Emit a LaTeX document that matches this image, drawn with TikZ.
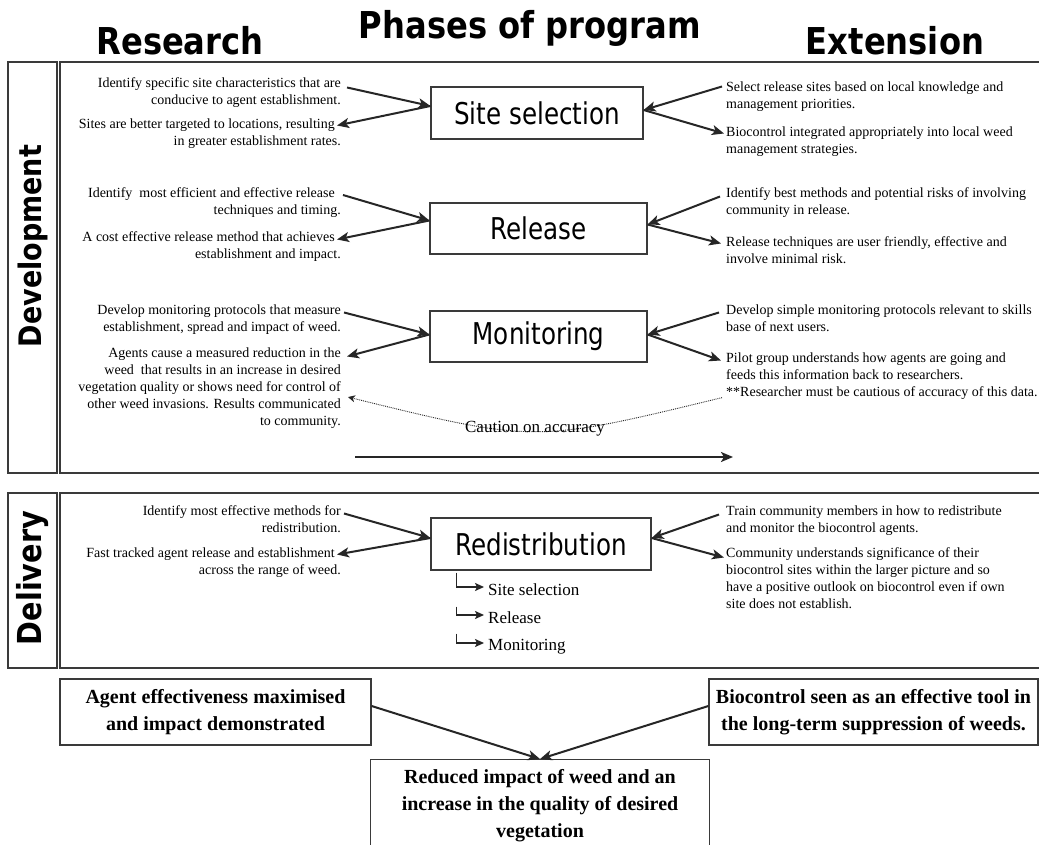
\documentclass[tikz,border=0pt]{standalone}
\usepackage{fontspec}
\setmainfont{Liberation Serif}
\newfontfamily\hsf[FakeStretch=0.87]{DejaVu Sans}
\newfontfamily\bsf[FakeStretch=0.82]{DejaVu Sans}
\usetikzlibrary{arrows.meta,calc}
\definecolor{linec}{HTML}{3A3A3A}
\definecolor{arrc}{HTML}{262626}
\tikzset{
  frame/.style={draw=linec, line width=1.2pt},
  phase/.style={draw=linec, line width=1.2pt, minimum height=52pt, inner sep=0pt,
    font=\bsf\fontsize{30}{30}\selectfont},
  ltext/.style={anchor=north east, align=right, inner sep=0pt, font=\fontsize{14}{17}\selectfont},
  rtext/.style={anchor=north west, align=left, inner sep=0pt, font=\fontsize{14}{17}\selectfont},
  arr/.style={draw=arrc, line width=2pt, -{Stealth[length=12pt,width=10pt,inset=3pt]}},
  elb/.style={draw=arrc, line width=1.8pt, -{Stealth[length=9pt,width=8pt,inset=2pt]}},
  dotarr/.style={draw=arrc, line width=0.9pt, dash pattern=on 0.9pt off 1pt, -{Stealth[length=7pt,width=7pt,inset=2pt]}},
  head/.style={inner sep=0pt, font=\hsf\bfseries\fontsize{37}{37}\selectfont},
  side/.style={inner sep=0pt, rotate=90, font=\hsf\bfseries\fontsize{31}{31}\selectfont},
  sub/.style={anchor=west, inner sep=0pt, font=\fontsize{17}{17}\selectfont},
  bbox/.style={draw=linec, line width=1.2pt, align=center, inner xsep=4pt,
    font=\bfseries\fontsize{20}{27}\selectfont}
}
\begin{document}
\begin{tikzpicture}[x=1pt,y=-1pt]
\useasboundingbox (0,0) rectangle (1039,845);
\clip (0,0) rectangle (1039,845);
\fill[white] (0,0) rectangle (1039,845);

% headings
\node[head, anchor=base] (ttl) at (530,39) {Phases of program};
\node[head, anchor=base] (res) at (180,55) {Research};
\node[head, anchor=base] (ext) at (895,55) {Extension};

% frames
\draw[frame] (8,62) rectangle (57,473);
\draw[frame] (60,62) rectangle (1050,473);
\draw[frame] (8,493) rectangle (57,668);
\draw[frame] (60,493) rectangle (1050,668);
\node[side] (dev) at (33,246) {Development};
\node[side, font=\hsf\bfseries\fontsize{33}{33}\selectfont] (del) at (33,578) {Delivery};

% phase boxes
\node[phase, minimum width=212pt] (ss) at (537,113) {Site selection};
\node[phase, minimum width=217pt, minimum height=51pt] (rel) at (538.5,228.5) {Release};
\node[phase, minimum width=217pt, minimum height=51pt] (mon) at (538.5,336.5) {Monitoring};
\node[phase, minimum width=220pt] (red) at (541,544) {Redistribution};

% left texts
\node[ltext] (ls1) at (341,77.5) {Identify specific site characteristics that are\\conducive to agent establishment.};
\node[ltext] (ls2) at (341,118.5) {Sites are better targeted to locations, resulting\hspace*{6pt}\\in greater establishment rates.};
\node[ltext] (lr1) at (341,187.5) {Identify~~most efficient and effective release\hspace*{6pt}\\techniques and timing.};
\node[ltext] (lr2) at (341,231.5) {A cost effective release method that achieves\hspace*{6pt}\\establishment and impact.};
\node[ltext] (lm1) at (341,304.5) {Develop monitoring protocols that measure\\establishment, spread and impact of weed.};
\node[ltext] (lm2) at (341,347.5) {Agents cause a measured reduction in the\\weed~~that results in an increase in desired\\vegetation quality or shows need for control of\\other weed invasions. Results communicated\\to community.};
\node[ltext] (ld1) at (341,505.5) {Identify most effective methods for\\redistribution.};
\node[ltext] (ld2) at (341,547.5) {Fast tracked agent release and establishment\hspace*{6pt}\\across the range of weed.};

% right texts
\node[rtext] (rs1) at (726,81.5) {Select release sites based on local knowledge and\\management priorities.};
\node[rtext] (rs2) at (726,126.5) {Biocontrol integrated appropriately into local weed\\management strategies.};
\node[rtext] (rr1) at (726,187.5) {Identify best methods and potential risks of involving\\community in release.};
\node[rtext] (rr2) at (726,236.5) {Release techniques are user friendly, effective and\\involve minimal risk.};
\node[rtext] (rm1) at (726,304.5) {Develop simple monitoring protocols relevant to skills\\base of next users.};
\node[rtext] (rm2) at (726,352.5) {Pilot group understands how agents are going and\\feeds this information back to researchers.\\**Researcher must be cautious of accuracy of this data.};
\node[rtext] (rd1) at (726,505.5) {Train community members in how to redistribute\\and monitor the biocontrol agents.};
\node[rtext] (rd2) at (726,547.5) {Community understands significance of their\\biocontrol sites within the larger picture and so\\have a positive outlook on biocontrol even if own\\site does not establish.};

% left arrows
\draw[arr] ([shift={(6,10)}]ls1.north east) -- ([shift={(0,-7)}]ss.west);
\draw[arr] ([shift={(0,-7)}]ss.west) -- ([shift={(-4,7)}]ls2.north east);
\draw[arr] ([shift={(2,7.5)}]lr1.north east) -- ([shift={(0,-8)}]rel.west);
\draw[arr] ([shift={(0,-8)}]rel.west) -- ([shift={(-4,8)}]lr2.north east);
\draw[arr] ([shift={(3,8)}]lm1.north east) -- ([shift={(0,-2)}]mon.west);
\draw[arr] ([shift={(0,-2)}]mon.west) -- ([shift={(6,9)}]lm2.north east);
\draw[arr] ([shift={(3,8)}]ld1.north east) -- ([shift={(0,-6)}]red.west);
\draw[arr] ([shift={(0,-6)}]red.west) -- ([shift={(-4,7)}]ld2.north east);

% right arrows
\draw[arr] ([shift={(-4,5)}]rs1.north west) -- ([shift={(0,-3)}]ss.east);
\draw[arr] ([shift={(0,-3)}]ss.east) -- ([shift={(-2,7)}]rs2.north west);
\draw[arr] ([shift={(-6,9)}]rr1.north west) -- ([shift={(0,-4)}]rel.east);
\draw[arr] ([shift={(0,-4)}]rel.east) -- ([shift={(-5,7)}]rr2.north west);
\draw[arr] ([shift={(-7,8)}]rm1.north west) -- ([shift={(0,-2)}]mon.east);
\draw[arr] ([shift={(0,-2)}]mon.east) -- ([shift={(-5,8)}]rm2.north west);
\draw[arr] ([shift={(-7,9)}]rd1.north west) -- ([shift={(0,-6)}]red.east);
\draw[arr] ([shift={(0,-6)}]red.east) -- ([shift={(-2,10)}]rd2.north west);

% caution dotted connector
\draw[dotarr] ([shift={(-4,-2)}]rm2.south west) .. controls (535,443) .. ([shift={(7,9)}]lm2.east)
  node[pos=0.5, anchor=base, yshift=-1pt, inner sep=0pt, font=\fontsize{17}{17}\selectfont] (cau) {Caution on accuracy};

% time arrow
\coordinate (tlA) at (355,457);
\coordinate (tlB) at (733,457);
\draw[arr, line width=2.2pt] (tlA) -- (tlB);

% redistribution sub list
\node[sub] (sub1) at (488,590) {Site selection};
\node[sub] (sub2) at (488,618) {Release};
\node[sub] (sub3) at (488,647) {Monitoring};
\draw[elb] ([shift={(26,2)}]red.south west) |- ([shift={(-4,-3)}]sub1.west);
\draw[elb] ([shift={(26,36)}]red.south west) |- ([shift={(-4,-3)}]sub2.west);
\draw[elb] ([shift={(26,63)}]red.south west) |- ([shift={(-4,-4)}]sub3.west);

% outcome boxes
\node[bbox, minimum width=311pt, minimum height=66pt] (agent) at (215.5,712) {Agent effectiveness maximised\\and impact demonstrated};
\node[bbox, minimum width=329pt, minimum height=66pt] (bio) at (873.5,712) {Biocontrol seen as an effective tool in\\the long-term suppression of weeds.};
\node[bbox, minimum width=339pt, anchor=north, inner ysep=10pt] (res2) at (540,759) {Reduced impact of weed and an\\increase in the quality of desired\\vegetation};
\draw[arr] ([shift={(0,-6)}]agent.east) -- (res2.north);
\draw[arr] ([shift={(0,-6)}]bio.west) -- (res2.north);
\end{tikzpicture}
\end{document}
